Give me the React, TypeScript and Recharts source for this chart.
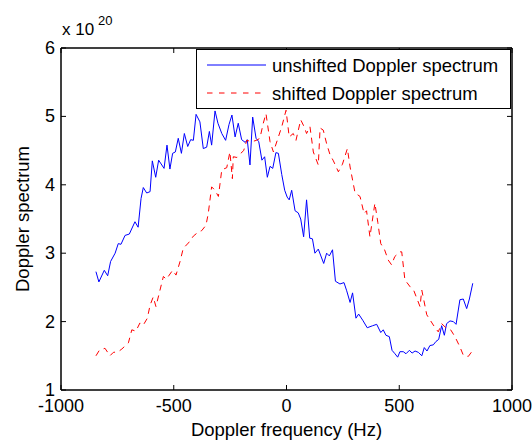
import React from 'react';
import { LineChart, Line, XAxis, YAxis, ReferenceArea } from 'recharts';

const FONT = '"Liberation Sans", Arial, Helvetica, sans-serif';

// Doppler frequency (Hz) and spectrum (x 1e20) for the unshifted spectrum
const blueFreq = [
  -845, -832, -808, -793, -780, -760, -746, -734, -716, -697, -672, -658, -645, -635, -620, -605,
  -595, -580, -567, -543, -530, -517, -505, -493, -480, -466, -453, -438, -425, -413, -401, -384,
  -369, -354, -342, -332, -317, -304, -287, -270, -255, -242, -228, -214, -199, -183, -174, -162,
  -150, -135, -123, -109, -97, -85, -73, -61, -47, -36, -21, -8, 3, 12, 23, 38, 52, 63, 76, 89,
  103, 115, 126, 141, 165, 178, 190, 204, 217, 237, 255, 267, 282, 293, 308, 320, 338, 358, 382,
  400, 418, 429, 441, 456, 468, 481, 493, 503, 518, 530, 545, 557, 570, 585, 600, 611, 623, 636,
  651, 663, 675, 688, 700, 710, 725, 740, 752, 769, 784, 799, 811, 826,
];
const blueVals = [
  2.73, 2.58, 2.75, 2.67, 2.88, 3.0, 3.14, 3.13, 3.26, 3.28, 3.46, 3.38, 3.8, 3.96, 3.88, 3.9,
  4.35, 4.11, 4.36, 4.24, 4.58, 4.23, 4.46, 4.48, 4.68, 4.46, 4.75, 4.56, 4.66, 4.65, 5.03, 4.92,
  4.53, 4.55, 4.78, 4.58, 5.08, 4.9, 4.75, 4.65, 4.88, 5.02, 4.7, 4.9, 4.66, 4.62, 4.66, 4.29,
  4.99, 4.68, 4.63, 4.36, 4.41, 4.11, 4.27, 4.24, 4.47, 4.46, 4.15, 3.92, 3.82, 3.78, 3.92, 3.62, 3.59, 3.5, 3.24, 3.78,
  3.22, 3.21, 3.0, 3.06, 2.85, 3.0, 2.96, 3.05, 2.59, 2.55, 2.57, 2.45, 2.28, 2.42, 2.05, 2.11, 2.02, 1.91, 1.94,
  1.96, 1.84, 1.88, 1.8, 1.78, 1.58, 1.53, 1.48, 1.56, 1.56, 1.53, 1.58, 1.54, 1.57, 1.55, 1.5, 1.62, 1.57, 1.65,
  1.66, 1.71, 1.74, 1.94, 1.8, 1.97, 2.01, 2.0, 1.96, 2.32, 2.33, 2.19, 2.33, 2.56,
];

// Shifted spectrum
const redFreq = [
  -845, -830, -805, -783, -768, -746, -730, -701, -686, -668, -650, -635, -617, -605, -591, -579,
  -561, -546, -533, -520, -505, -490, -472, -458, -435, -413, -391, -376, -357, -347, -332, -317,
  -302, -287, -265, -251, -240, -236, -220, -206, -190, -176, -155, -133, -118, -103, -91, -73,
  -58, -36, -21, -2, 12, 30, 42, 63, 78, 89, 104, 119, 141, 149, 163, 178, 193, 208, 230, 248,
  270, 282, 304, 326, 344, 355, 370, 392, 405, 418, 435, 451, 466, 480, 503, 511, 525, 548, 565,
  592, 600, 622, 651, 673, 688, 710, 728, 747, 769, 784, 806, 826,
];
const redVals = [
  1.5, 1.58, 1.61, 1.5, 1.55, 1.56, 1.6, 1.69, 1.88, 1.86, 1.98, 1.95, 2.05, 2.24, 2.36, 2.22,
  2.46, 2.66, 2.62, 2.68, 2.75, 2.68, 2.88, 3.07, 3.15, 3.25, 3.31, 3.33, 3.41, 3.58, 3.97, 3.92,
  3.83, 4.22, 4.25, 4.48, 4.09, 4.41, 4.4, 4.45, 4.5, 4.65, 4.63, 4.65, 4.68, 4.9, 5.04, 4.63,
  4.48, 4.7, 4.85, 5.09, 4.7, 4.75, 4.65, 4.95, 4.85, 4.75, 4.85, 4.48, 4.29, 4.83, 4.8, 4.6, 4.44, 4.35, 4.19, 4.3,
  4.53, 4.26, 3.88, 3.83, 3.58, 3.62, 3.24, 3.73, 3.45, 3.14, 3.05, 2.9, 2.83, 2.95, 3.02, 3.02, 2.61, 2.51, 2.45,
  2.22, 2.46, 2.1, 1.95, 1.85, 1.97, 1.9, 1.88, 1.78, 1.63, 1.51, 1.49, 1.58,
];

const xTicks = [-1000, -500, 0, 500, 1000];
const yTicks = [1, 2, 3, 4, 5, 6];
const xDomain = [-1000, 1000];
const yDomain = [1, 6];
const seriesNames = ['unshifted Doppler spectrum', 'shifted Doppler spectrum'];
const xLabel = 'Doppler frequency (Hz)';
const yLabel = 'Doppler spectrum';

const blueData = blueFreq.map((f, i) => ({ f, v: blueVals[i] }));
const redData = redFreq.map((f, i) => ({ f, v: redVals[i] }));

const TL = 5;

const BottomTick = (p: any) => (
  <g>
    <line x1={p.x} x2={p.x} y1={p.y} y2={p.y - TL} stroke="#000" />
    <text x={p.x} y={p.y + 22} textAnchor="middle" fontSize={18} fontFamily={FONT} fill="#000">
      {p.payload.value}
    </text>
  </g>
);
const TopTick = (p: any) => (
  <line x1={p.x} x2={p.x} y1={p.y} y2={p.y + TL} stroke="#000" />
);
const LeftTick = (p: any) => (
  <g>
    <line x1={p.x} x2={p.x + TL} y1={p.y} y2={p.y} stroke="#000" />
    <text x={p.x - 6} y={p.y + 6} textAnchor="end" fontSize={18} fontFamily={FONT} fill="#000">
      {p.payload.value}
    </text>
  </g>
);
const RightTick = (p: any) => (
  <line x1={p.x} x2={p.x - TL} y1={p.y} y2={p.y} stroke="#000" />
);

export default function App() {
  return (
    <div style={{ position: 'absolute', left: 0, top: 0, width: 532, height: 441, background: '#fff' }}>
      <LineChart width={532} height={441} margin={{ top: 47, right: 19, bottom: 0, left: 0 }}>
        <XAxis
          xAxisId="bottom"
          orientation="bottom"
          dataKey="f"
          type="number"
          domain={xDomain}
          ticks={xTicks}
          interval={0}
          height={51}
          tickSize={0}
          tickMargin={0}
          tickLine={false}
          axisLine={{ stroke: '#000' }}
          tick={<BottomTick />}
          label={{
            content: (props: any) => {
              const vb = props.viewBox;
              return (
                <text x={vb.x + vb.width / 2} y={vb.y + 46} textAnchor="middle" fontSize={18.5} fontFamily={FONT} fill="#000">
                  {xLabel}
                </text>
              );
            },
          }}
        />
        <XAxis
          xAxisId="top"
          orientation="top"
          dataKey="f"
          type="number"
          domain={xDomain}
          ticks={xTicks}
          interval={0}
          height={1}
          tickSize={0}
          tickMargin={0}
          tickLine={false}
          axisLine={{ stroke: '#000' }}
          tick={<TopTick />}
        />
        <YAxis
          yAxisId="left"
          orientation="left"
          type="number"
          domain={yDomain}
          ticks={yTicks}
          interval={0}
          width={61}
          tickSize={0}
          tickMargin={0}
          tickLine={false}
          axisLine={{ stroke: '#000' }}
          tick={<LeftTick />}
          label={{
            content: (props: any) => {
              const vb = props.viewBox;
              const cx = vb.x + 22;
              const cy = vb.y + vb.height / 2;
              return (
                <text x={cx} y={cy} transform={`rotate(-90 ${cx} ${cy})`} textAnchor="middle" dominantBaseline="central" fontSize={18.5} fontFamily={FONT} fill="#000">
                  {yLabel}
                </text>
              );
            },
          }}
        />
        <YAxis
          yAxisId="right"
          orientation="right"
          type="number"
          domain={yDomain}
          ticks={yTicks}
          interval={0}
          width={1}
          tickSize={0}
          tickMargin={0}
          tickLine={false}
          axisLine={{ stroke: '#000' }}
          tick={<RightTick />}
        />
        <ReferenceArea
          xAxisId="bottom"
          yAxisId="left"
          x1={xDomain[0]}
          x2={xDomain[1]}
          y1={yDomain[0]}
          y2={yDomain[1]}
          fill="none"
          stroke="#000"
          strokeWidth={1}
          ifOverflow="visible"
        />
        <Line
          xAxisId="bottom"
          yAxisId="right"
          data={blueData}
          dataKey="v"
          name={seriesNames[0]}
          stroke="#0000ff"
          strokeWidth={1}
          dot={false}
          isAnimationActive={false}
        />
        <Line
          xAxisId="top"
          yAxisId="left"
          data={redData}
          dataKey="v"
          name={seriesNames[1]}
          stroke="#ff0000"
          strokeWidth={1}
          strokeDasharray="6 5"
          dot={false}
          isAnimationActive={false}
        />
      </LineChart>
      <svg width={532} height={441} style={{ position: 'absolute', left: 0, top: 0, pointerEvents: 'none' }}>
        <text x={62} y={35} fontSize={17} fontFamily={FONT} fill="#000">x 10</text>
        <text x={98} y={25} fontSize={13} fontFamily={FONT} fill="#000">20</text>
      </svg>
      <div
        style={{
          position: 'absolute',
          left: 196,
          top: 49,
          width: 315,
          height: 60,
          border: '1px solid #000',
          background: '#fff',
          boxSizing: 'border-box',
        }}
      >
        <svg width={313} height={58} style={{ display: 'block' }}>
          <line x1={10} x2={69} y1={15} y2={15} stroke="#0000ff" strokeWidth={1} />
          <text x={75} y={15} dominantBaseline="central" fontSize={18.5} fontFamily={FONT} fill="#000">
            {seriesNames[0]}
          </text>
          <line x1={10} x2={69} y1={43} y2={43} stroke="#ff0000" strokeWidth={1} strokeDasharray="5.5 6.5" />
          <text x={75} y={43} dominantBaseline="central" fontSize={18.5} fontFamily={FONT} fill="#000">
            {seriesNames[1]}
          </text>
        </svg>
      </div>
    </div>
  );
}
